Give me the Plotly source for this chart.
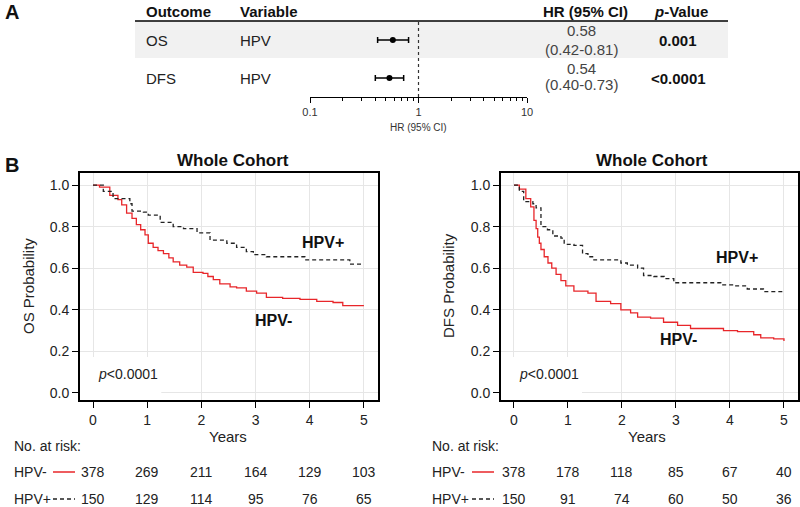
import plotly.graph_objects as go

W, H = 800, 507
def px(v): return v / W
def py(v): return 1 - v / H

FONT = "Arial, Liberation Sans, sans-serif"
RED = "#e8262a"

# ---------------- Panel A data ----------------
outcomes = ["OS", "DFS"]
variables = ["HPV", "HPV"]
hr = [0.58, 0.54]
hr_lo = [0.42, 0.40]
hr_hi = [0.81, 0.73]
hr_text = ["0.58", "0.54"]
ci_text = ["(0.42-0.81)", "(0.40-0.73)"]
p_text = ["0.001", "<0.0001"]
forest_ticks = [0.1, 1, 10]
forest_ticklabels = ["0.1", "1", "10"]
forest_minor = [0.2, 0.3, 0.4, 0.5, 0.6, 0.7, 0.8, 0.9, 2, 3, 4, 5, 6, 7, 8, 9]
row_y = [2, 1]

# ---------------- Panel B data ----------------
os_neg_t = [0, 0.12, 0.31, 0.46, 0.53, 0.62, 0.72, 0.8, 0.88, 0.96, 1.02, 1.11, 1.2, 1.3, 1.4, 1.48, 1.6, 1.73, 1.85, 2.03, 2.12, 2.22, 2.34, 2.53, 2.65, 2.83, 3.02, 3.2, 3.5, 3.82, 4.13, 4.43, 4.61, 5.0]
os_neg_s = [1.0, 0.99, 0.95, 0.93, 0.905, 0.865, 0.84, 0.81, 0.785, 0.76, 0.72, 0.70, 0.685, 0.67, 0.65, 0.63, 0.615, 0.605, 0.58, 0.575, 0.56, 0.545, 0.525, 0.51, 0.505, 0.49, 0.48, 0.46, 0.455, 0.45, 0.44, 0.435, 0.42, 0.42]
os_pos_t = [0, 0.19, 0.37, 0.68, 0.72, 0.93, 1.02, 1.24, 1.48, 1.67, 1.92, 2.16, 2.47, 2.65, 2.83, 2.96, 3.2, 3.91, 4.74, 5.0]
os_pos_s = [1.0, 0.97, 0.935, 0.91, 0.875, 0.87, 0.855, 0.82, 0.80, 0.79, 0.77, 0.735, 0.72, 0.70, 0.68, 0.665, 0.655, 0.64, 0.62, 0.62]

dfs_neg_t = [0, 0.1, 0.22, 0.31, 0.37, 0.41, 0.44, 0.47, 0.5, 0.56, 0.63, 0.7, 0.78, 0.87, 0.96, 1.11, 1.37, 1.52, 1.79, 1.98, 2.16, 2.29, 2.53, 2.77, 3.03, 3.27, 3.88, 4.14, 4.44, 4.57, 4.81, 5.0]
dfs_neg_s = [1.0, 0.98, 0.935, 0.895, 0.83, 0.79, 0.75, 0.72, 0.69, 0.655, 0.625, 0.6, 0.57, 0.54, 0.515, 0.49, 0.48, 0.44, 0.43, 0.40, 0.385, 0.365, 0.36, 0.34, 0.325, 0.31, 0.30, 0.295, 0.28, 0.265, 0.26, 0.25]
dfs_pos_t = [0, 0.1, 0.18, 0.35, 0.41, 0.5, 0.62, 0.72, 0.87, 0.93, 1.11, 1.27, 1.37, 1.48, 1.98, 2.1, 2.29, 2.4, 2.59, 2.78, 2.96, 3.83, 4.07, 4.32, 4.62, 5.0]
dfs_pos_s = [1.0, 0.97, 0.92, 0.91, 0.89, 0.80, 0.785, 0.755, 0.745, 0.715, 0.71, 0.67, 0.655, 0.64, 0.625, 0.615, 0.60, 0.565, 0.56, 0.55, 0.53, 0.52, 0.515, 0.50, 0.487, 0.487]

risk_years = [0, 1, 2, 3, 4, 5]
os_neg_risk = [378, 269, 211, 164, 129, 103]
os_pos_risk = [150, 129, 114, 95, 76, 65]
dfs_neg_risk = [378, 178, 118, 85, 67, 40]
dfs_pos_risk = [150, 91, 74, 60, 50, 36]

y_ticks = [0.0, 0.2, 0.4, 0.6, 0.8, 1.0]
x_ticks = [0, 1, 2, 3, 4, 5]

fig = go.Figure()

# ---- forest plot ----
fig.add_trace(go.Scatter(x=[1, 1], y=[0.5, 2.474], mode="lines", xaxis="x", yaxis="y",
                         line=dict(color="#333", width=1.2, dash="dot"), showlegend=False, hoverinfo="skip"))
fig.add_trace(go.Scatter(
    x=hr, y=row_y, mode="markers", xaxis="x", yaxis="y",
    marker=dict(color="black", size=6),
    error_x=dict(type="data", symmetric=False,
                 array=[h - m for h, m in zip(hr_hi, hr)],
                 arrayminus=[m - l for m, l in zip(hr, hr_lo)],
                 color="black", thickness=1.5, width=3),
    showlegend=False))

# ---- KM curves ----
def km(t, s, color, dash, xa, ya):
    fig.add_trace(go.Scatter(x=t, y=s, mode="lines", line_shape="hv", xaxis=xa, yaxis=ya,
                             line=dict(color=color, width=1.3, dash=dash), showlegend=False))

km(os_neg_t, os_neg_s, RED, "solid", "x2", "y2")
km(os_pos_t, os_pos_s, "#222", "4px,3px", "x2", "y2")
km(dfs_neg_t, dfs_neg_s, RED, "solid", "x3", "y3")
km(dfs_pos_t, dfs_pos_s, "#222", "4px,3px", "x3", "y3")

ydom = [py(400), py(173)]
km_x = dict(range=[-0.24, 5.26], tickvals=x_ticks, ticks="outside", ticklen=6, tickcolor="black",
            tickwidth=1.2, showline=True, linecolor="black", linewidth=1.8, mirror=True,
            showgrid=True, gridcolor="#e6e6e6", gridwidth=1, zeroline=False, automargin=False,
            tickfont=dict(size=14, color="#222", family=FONT))
km_y = dict(range=[-0.034, 1.058], tickvals=y_ticks, tickformat=".1f", ticks="outside", ticklen=6,
            tickcolor="black", tickwidth=1.2, showline=True, linecolor="black", linewidth=1.8,
            mirror=True, showgrid=True, gridcolor="#e6e6e6", gridwidth=1, zeroline=False, automargin=False,
            tickfont=dict(size=14, color="#222", family=FONT))

fig.update_layout(
    width=W, height=H, margin=dict(l=0, r=0, t=0, b=0, autoexpand=False),
    paper_bgcolor="white", plot_bgcolor="rgba(0,0,0,0)",
    font=dict(family=FONT, color="#111"),
    xaxis=dict(type="log", domain=[px(310), px(527)], range=[-1, 1], anchor="y", automargin=False,
               tickvals=forest_ticks, ticktext=forest_ticklabels, ticks="outside", ticklen=5,
               tickcolor="black", tickwidth=1.2, showline=True, linecolor="black", linewidth=1.2,
               showgrid=False, zeroline=False, tickfont=dict(size=11, color="#333"),
               minor=dict(tickvals=forest_minor, ticks="outside", ticklen=3, tickcolor="black",
                          tickwidth=1, showgrid=False)),
    yaxis=dict(domain=[py(97), py(22)], range=[0.5, 2.474], visible=False, anchor="x", automargin=False),
    xaxis2=dict(domain=[px(80), px(378)], anchor="y2", **km_x),
    yaxis2=dict(domain=ydom, anchor="x2", **km_y),
    xaxis3=dict(domain=[px(501), px(798)], anchor="y3", **km_x),
    yaxis3=dict(domain=ydom, anchor="x3", **km_y),
)

shapes = []
# gray band and header line
shapes.append(dict(type="rect", xref="paper", yref="paper", x0=px(135), x1=px(728), y0=py(58), y1=py(21),
                   fillcolor="#f1f1f1", line=dict(width=0), layer="below"))
shapes.append(dict(type="line", xref="paper", yref="paper", x0=px(135), x1=px(728), y0=py(21), y1=py(21),
                   line=dict(color="black", width=1.5)))
# white boxes behind p-value text (covering gridlines)
for xa, ya in [("x2", "y2"), ("x3", "y3")]:
    shapes.append(dict(type="rect", xref=xa, yref=ya, x0=-0.24, x1=1.26, y0=-0.034, y1=0.173,
                       fillcolor="white", line=dict(width=0), layer="between"))
# risk-table legend lines
for x0, x1 in [(53, 75), (472, 494)]:
    shapes.append(dict(type="line", xref="paper", yref="paper", x0=px(x0), x1=px(x1), y0=py(472), y1=py(472),
                       line=dict(color=RED, width=1.5)))
    shapes.append(dict(type="line", xref="paper", yref="paper", x0=px(x0), x1=px(x1), y0=py(499), y1=py(499),
                       line=dict(color="#222", width=1.3, dash="4px,3px")))
fig.update_layout(shapes=shapes)

ann = []
def A(text, x, y, size=14, bold=False, xanchor="center", xref="paper", yref="paper", color="#111", **kw):
    if bold:
        text = "<b>" + text + "</b>"
    ann.append(dict(text=text, x=x, y=y, xref=xref, yref=yref, showarrow=False, xanchor=xanchor,
                    yanchor="middle", font=dict(size=size, color=color, family=FONT), **kw))

A("A", px(3), py(12), size=20, bold=True, xanchor="left")
A("B", px(3), py(165), size=20, bold=True, xanchor="left")
A("Outcome", px(144), py(11), size=15, bold=True, xanchor="left")
A("Variable", px(238), py(11), size=15, bold=True, xanchor="left")
A("HR (95% CI)", px(585), py(11), size=15, bold=True)
A("<i>p</i>-Value", px(681), py(11), size=15, bold=True)
rows_py = [41, 78]
hr_py = [(31, 49), (68, 85)]
for i in range(2):
    A(outcomes[i], px(144), py(rows_py[i]), size=15, xanchor="left", color="#222")
    A(variables[i], px(238), py(rows_py[i]), size=15, xanchor="left", color="#222")
    A(hr_text[i], px(581), py(hr_py[i][0]), size=15, color="#444")
    A(ci_text[i], px(581), py(hr_py[i][1]), size=15, color="#444")
    A(p_text[i].replace("<", "&lt;"), px(678), py(rows_py[i]), size=15, bold=True)
A("HR (95% CI)", px(418), py(128), size=10, color="#333")

# KM titles and labels
for cx, lab, ylx, xa, ya, plus, minus in [
    (233, "OS Probability", 28, "x2", "y2", (3.82, 0.726), (2.95, 0.35)),
    (652, "DFS Probability", 448, "x3", "y3", (3.7, 0.65), (2.66, 0.255)),
]:
    A("Whole Cohort", px(cx), py(160), size=17, bold=True)
    A(lab, px(ylx), py(286), size=15, textangle=-90, color="#222")
    A("Years", px(cx - 5), py(436), size=15, color="#222")
    A("HPV+", plus[0], plus[1], size=16, bold=True, xref=xa, yref=ya, xanchor="left")
    A("HPV-", minus[0], minus[1], size=16, bold=True, xref=xa, yref=ya, xanchor="left")
    A("<i>p</i>&lt;0.0001", 0.06, 0.09, size=14, xref=xa, yref=ya, xanchor="left", color="#222")

for lx, xa, neg, pos in [(12, "x2", os_neg_risk, os_pos_risk), (430, "x3", dfs_neg_risk, dfs_pos_risk)]:
    A("No. at risk:", px(lx), py(446), size=14, xanchor="left", color="#222")
    A("HPV-", px(lx), py(472), size=14, xanchor="left", color="#222")
    A("HPV+", px(lx), py(499), size=14, xanchor="left", color="#222")
    for yr, n1, n2 in zip(risk_years, neg, pos):
        A(str(n1), yr, py(472), size=14, xref=xa, color="#222")
        A(str(n2), yr, py(499), size=14, xref=xa, color="#222")

fig.update_layout(annotations=ann)
fig.write_html("out.html", config={"displayModeBar": False},
               post_script="document.body.style.margin='0';document.body.style.overflow='hidden';")
